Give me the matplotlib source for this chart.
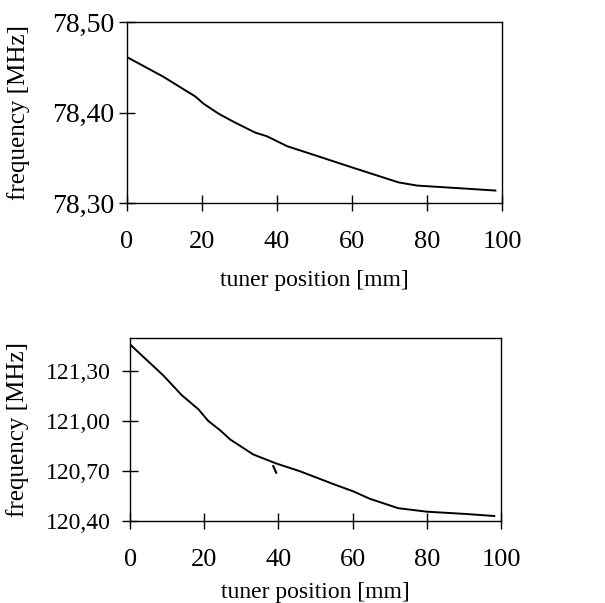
"""
tuner position vs frequency, two cavities
"""

from matplotlib import pyplot as plt
import matplotlib

# top cavity
pos_top = [0, 9.6, 18.2, 20.4, 24.4, 28.4, 34.2, 37.3, 42.7, 51.6, 60.4, 64.9, 72.4, 77.3, 88.9, 98.2]
freq_top = [78.4615, 78.440, 78.418, 78.410, 78.399, 78.390, 78.378, 78.374, 78.363,
            78.351, 78.339, 78.333, 78.323, 78.3195, 78.3165, 78.314]

# bottom cavity
pos_bot = [0, 9.0, 13.9, 18.4, 21.1, 24.3, 27.0, 33.2, 39.5, 45.8, 54.8, 60.2, 64.7, 72.3, 80.0, 90.7, 98.2]
freq_bot = [121.461, 121.274, 121.157, 121.072, 121.001, 120.945, 120.890, 120.800, 120.745,
            120.699, 120.622, 120.578, 120.533, 120.477, 120.456, 120.442, 120.430]

# small scan mark near the bottom curve
mark_x = [38.6, 39.4]
mark_y = [120.73, 120.69]

xticks = [0, 20, 40, 60, 80, 100]
yticks_top = [78.30, 78.40, 78.50]
ytick_labels_top = ["78,30", "78,40", "78,50"]
yticks_bot = [120.40, 120.70, 121.00, 121.30]
ytick_labels_bot = ["120,40", "120,70", "121,00", "121,30"]

matplotlib.rc('font', family=['Liberation Serif', 'DejaVu Serif'])

fig = plt.figure(figsize=(6.05, 6.03), dpi=100)

ax1 = fig.add_axes([0.210, 0.663, 0.620, 0.300])
ax2 = fig.add_axes([0.215, 0.136, 0.613, 0.3035])

for ax in (ax1, ax2):
    ax.set_xlim(0, 100)
    ax.set_xticks(xticks)
    ax.tick_params(direction='inout', length=12, width=1, labelsize=19)
    ax.tick_params(axis='x', pad=14)
    for sp in ax.spines.values():
        sp.set_linewidth(1)
    ax.set_ylabel("frequency [MHz]", fontsize=18)

ax1.plot(pos_top, freq_top, color='black', linewidth=1.4)
ax1.set_ylim(78.30, 78.50)
ax1.set_yticks(yticks_top, ytick_labels_top)
ax1.tick_params(axis='y', pad=3, labelsize=20)
ax1.set_xlabel("tuner position [mm]", fontsize=17, labelpad=12)

ax2.plot(pos_bot, freq_bot, color='black', linewidth=1.4)
ax2.plot(mark_x, mark_y, color='black', linewidth=1.5)
ax2.set_ylim(120.40, 121.50)
ax2.set_yticks(yticks_bot, ytick_labels_bot)
ax2.tick_params(axis='y', pad=8, labelsize=17)
ax2.set_xlabel("tuner position [mm]", fontsize=17, labelpad=8)

ax1.yaxis.set_label_coords(-0.26, 0.5)
ax2.yaxis.set_label_coords(-0.272, 0.5)

fig.savefig("out.png", dpi=100)
